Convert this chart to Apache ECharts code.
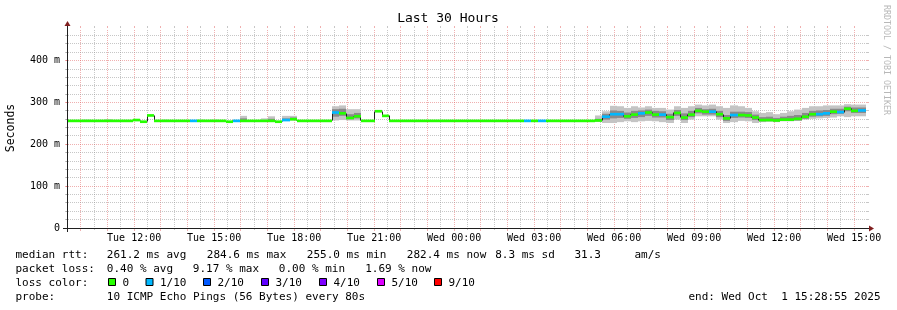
<!DOCTYPE html>
<html><head><meta charset="utf-8">
<script src="https://cdn.jsdelivr.net/npm/echarts@6/dist/echarts.min.js"></script>
<style>html,body{margin:0;padding:0;background:#fff}#c{width:897px;height:310px}</style>
</head><body><div id="c"></div>
<script>
// ================= DATA =================
// time axis in hours since Tue 00:00
const xStartHour = 9 + 28/60 + 55/3600;      // Tue 09:28:55
const xEndHour = xStartHour + 30;            // Wed 15:28:55
const firstStepHour = 9.2951;                // start of consolidation step 0
const stepHours = 16/60;                     // 960 s steps
const xTickHours = [12,15,18,21,24,27,30,33,36,39];
const xTickLabels = ['Tue 12:00','Tue 15:00','Tue 18:00','Tue 21:00','Wed 00:00','Wed 03:00','Wed 06:00','Wed 09:00','Wed 12:00','Wed 15:00'];
const xMajorGridHours = [10,11,12,13,14,15,16,17,18,19,20,21,22,23,24,25,26,27,28,29,30,31,32,33,34,35,36,37,38,39];
const xMinorGridHours = [9.5,10.5,11.5,12.5,13.5,14.5,15.5,16.5,17.5,18.5,19.5,20.5,21.5,22.5,23.5,24.5,25.5,26.5,27.5,28.5,29.5,30.5,31.5,32.5,33.5,34.5,35.5,36.5,37.5,38.5];
const yMax = 478;
const yTickValues = [0,100,200,300,400];
const yTickLabels = ['0','100 m','200 m','300 m','400 m'];
const yMinorGrid = [20,40,60,80,120,140,160,180,220,240,260,280,320,340,360,380,420,440,460];

// median rtt per step (ms)
const medianMs = [
 256,256,256,256,256,256,256,256,256,256,
 258,254,269,256,256,256,256,256,256,256,
 256,256,256,254,256,256,256,256,256,256,
 254,258,260,256,256,256,256,256,276,274,
 263,267,256,256,279,268,256,256,256,256,
 256,256,256,256,256,256,256,256,256,256,
 256,256,256,256,256,256,256,256,256,256,
 256,256,256,256,256,257,266,272,272,267,
 271,274,276,271,271,265,275,264,271,280,
 278,278,272,262,270,270,269,264,258,258,
 257,259,259,261,266,272,272,274,278,277,
 285,280,281,null
];
// lost pings (of 10) per step
const lossCount = [
 0,0,0,0,0,0,0,0,0,0,
 0,0,0,0,0,0,0,0,1,0,
 0,0,0,0,1,0,0,0,0,0,
 0,1,0,0,0,0,0,0,1,0,
 0,0,0,0,0,0,0,0,0,0,
 0,0,0,0,0,0,0,0,0,0,
 0,0,0,0,0,1,0,1,0,0,
 0,0,0,0,0,0,1,1,1,0,
 0,1,0,0,1,0,0,0,0,0,
 0,1,0,0,1,0,0,0,0,0,
 0,0,0,0,0,0,1,1,0,1,
 0,0,1,0
];
// smoke: [step, min, low, high, max] (ms)
const smoke = [
 [3,255,256,257,259],[6,255,256,257,260],[14,255,256,257,259],[19,255,256,257,259],[21,255,256,257,259],
 [25,255,256,262,268],[28,255,256,258,262],[29,255,256,261,267],[31,256,257,262,268],[32,257,258,264,268],
 [38,257,266,284,291],[39,258,268,285,293],[40,257,260,272,284],[41,257,262,275,284],
 [75,254,255,261,269],[76,251,259,273,279],[77,251,262,281,292],[78,253,263,280,291],[79,255,261,276,287],
 [80,253,263,280,291],[81,255,265,281,288],[82,256,268,283,291],[83,255,264,280,287],[84,253,264,279,287],
 [85,251,258,273,283],[86,259,268,282,291],[87,251,258,274,287],[88,259,265,280,291],[89,267,274,287,295],
 [90,267,271,284,293],[91,267,271,285,295],[92,259,265,280,291],[93,251,256,270,287],[94,253,263,278,293],
 [95,256,264,278,291],[96,255,263,277,287],[97,251,258,271,279],[98,253,255,265,275],[99,255,255,266,277],
 [100,253,255,263,272],[101,255,256,266,275],[102,255,256,268,279],[103,256,257,270,283],[104,259,261,275,287],
 [105,261,266,280,291],[106,262,267,281,291],[107,263,268,282,293],[108,264,272,285,293],[109,267,273,285,293],
 [110,265,279,290,296],[111,267,275,288,295],[112,267,275,288,295]
];
const lossLevels = [0,1,2,3,4,5,9];
const lossLabels = ['0','1/10','2/10','3/10','4/10','5/10','9/10'];
const lossColors = ['#26ff00','#00b8ff','#0059ff','#5e00ff','#7e00ff','#dd00ff','#ff0000'];

const titleText = 'Last 30 Hours';
const yAxisName = 'Seconds';
const rttHead = 'median rtt:';
const rttStats = ['261.2 ms avg','284.6 ms max','255.0 ms min','282.4 ms now','8.3 ms sd','31.3','am/s'];
const lossHead = 'packet loss:';
const lossStats = ['0.40 % avg','9.17 % max','0.00 % min','1.69 % now'];
const colorHead = 'loss color:';
const probeHead = 'probe:';
const probeText = '10 ICMP Echo Pings (56 Bytes) every 80s';
const endText = 'end: Wed Oct  1 15:28:55 2025';
const watermark = 'RRDTOOL / TOBI OETIKER';

// ================= STYLE / LAYOUT =================
const FONT = '"DejaVu Sans Mono"';
const bandHalf = 3.2;
const GRID_C = 'rgba(143,143,143,0.5)';
const MGRID_C = 'rgba(222,79,79,0.45)';
const AXIS_C = '#1f1f1f';
const ARROW_C = '#801f1f';

function stepRange(i){
  const t0 = firstStepHour + i*stepHours, t1 = t0 + stepHours;
  return [Math.max(t0, xStartHour), Math.min(t1, xEndHour)];
}
const crisp = v => Math.floor(v) + 0.5;

const vGridData = xMinorGridHours.map(h=>[h,0]).concat(xMajorGridHours.map(h=>[h,1]));
const hGridData = yMinorGrid.map(v=>[xStartHour,v,0]).concat(yTickValues.filter(v=>v>0).map(v=>[xStartHour,v,1]));

function vGridItem(params, api){
  const d = vGridData[params.dataIndex];
  const major = d[1] === 1;
  const c = major ? MGRID_C : GRID_C;
  const p0 = api.coord([d[0], 0]), p1 = api.coord([d[0], yMax]);
  const x = crisp(p0[0]), yb = Math.round(p0[1]), yt = Math.round(p1[1]);
  return {type:'group', children:[
    {type:'line', shape:{x1:x,y1:yb-1,x2:x,y2:yt+1}, style:{stroke:c,lineWidth:1,lineDash:[1,1]}},
    {type:'line', shape:{x1:x,y1:yt-2,x2:x,y2:yt}, style:{stroke:c,lineWidth:1}},
    {type:'line', shape:{x1:x,y1:yb,x2:x,y2:yb+(major?3:2)}, style:{stroke:c,lineWidth:1}}
  ]};
}
function hGridItem(params, api){
  const d = hGridData[params.dataIndex];
  const major = d[2] === 1;
  const c = major ? MGRID_C : GRID_C;
  const p0 = api.coord([xStartHour, d[1]]), p1 = api.coord([xEndHour, d[1]]);
  const y = crisp(p0[1]), xl = Math.round(p0[0]), xr = Math.round(p1[0]);
  return {type:'group', children:[
    {type:'line', shape:{x1:xl-1,y1:y,x2:xr+1,y2:y}, style:{stroke:c,lineWidth:1,lineDash:[1,1]}},
    {type:'line', shape:{x1:xl-2,y1:y,x2:xl,y2:y}, style:{stroke:c,lineWidth:1}},
    {type:'line', shape:{x1:xr,y1:y,x2:xr+2,y2:y}, style:{stroke:c,lineWidth:1}}
  ]};
}
function smokeItem(params, api){
  const d = smoke[params.dataIndex];
  const r = stepRange(d[0]);
  const mk = (lo, hi, col) => {
    const a = api.coord([r[0], hi]), b = api.coord([r[1], lo]);
    const x0 = Math.round(a[0]), x1 = Math.round(b[0]);
    return {type:'rect', shape:{x:x0, y:a[1], width:x1-x0, height:b[1]-a[1]}, style:{fill:col}};
  };
  return {type:'group', children:[ mk(d[1], d[4], '#c4c4c4'), mk(d[2], d[3], '#8a8a8a') ]};
}
function lineItem(params, api){
  const i = params.dataIndex, m = medianMs[i];
  if (m == null) return null;
  const r = stepRange(i);
  const a = api.coord([r[0], m]), b = api.coord([r[1], m]);
  const y = crisp(a[1]);
  const children = [{type:'line', shape:{x1:Math.round(a[0]),y1:y,x2:Math.round(b[0]),y2:y}, style:{stroke:'#202020',lineWidth:1}}];
  const n = medianMs[i+1];
  if (n != null && i+1 < medianMs.length) {
    const c = api.coord([r[1], n]);
    const x = crisp(b[0]);
    children.push({type:'line', shape:{x1:x,y1:y,x2:x,y2:crisp(c[1])}, style:{stroke:'#202020',lineWidth:1}});
  }
  return {type:'group', children};
}
function bandItem(params, api){
  const i = params.dataIndex, m = medianMs[i];
  if (m == null) return null;
  const r = stepRange(i);
  const a = api.coord([r[0], m + bandHalf]), b = api.coord([r[1], m - bandHalf]);
  const x0 = Math.round(a[0]), x1 = Math.round(b[0]);
  const col = lossColors[lossLevels.indexOf(lossCount[i])];
  return {type:'rect', shape:{x:x0, y:a[1], width:x1-x0, height:b[1]-a[1]}, style:{fill:col}};
}
function axesItem(params, api){
  const o = api.coord([xStartHour, 0]), e = api.coord([xEndHour, yMax]);
  const x0 = Math.round(o[0]), y0 = Math.round(o[1]), x1 = Math.round(e[0]), y1 = Math.round(e[1]);
  return {type:'group', children:[
    {type:'line', shape:{x1:x0-4,y1:y0+0.5,x2:x1+4,y2:y0+0.5}, style:{stroke:AXIS_C,lineWidth:1}},
    {type:'line', shape:{x1:x0+0.5,y1:y0+4,x2:x0+0.5,y2:y1-4}, style:{stroke:AXIS_C,lineWidth:1}},
    {type:'polygon', shape:{points:[[x1+2,y0-2.5],[x1+2,y0+3.5],[x1+7,y0+0.5]]}, style:{fill:ARROW_C}},
    {type:'polygon', shape:{points:[[x0-2.5,y1-2],[x0+3.5,y1-2],[x0+0.5,y1-7]]}, style:{fill:ARROW_C}}
  ]};
}

const stepData = medianMs.map((m,i)=>[firstStepHour + (i+0.5)*stepHours, m == null ? 0 : m]);

// graphic texts
const txt = (text, x, y, size, extra) => Object.assign({type:'text', x, y, silent:true,
  style:{text, font: size + 'px ' + FONT, fill:'#000', align:'left', verticalAlign:'middle', textAlign:'left', textVerticalAlign:'middle'}}, extra||{});
const L1 = 255, L2 = 268.8, L3 = 283, L4 = 297;
const rttX = [106.8, 206.8, 306.8, 406.8, 495.2, 574.5, 634.5];
const lossX = [106.8, 192.8, 278.8, 365.2];
const boxX = [108, 145.5, 203, 261, 319, 377, 434];
const elements = [];
elements.push({type:'text', x:448, y:19, silent:true, style:{text:titleText, font:'13px '+FONT, fill:'#000', align:'center', verticalAlign:'middle', textAlign:'center', textVerticalAlign:'middle'}});
elements.push({type:'text', x:886.5, y:5, rotation:-Math.PI/2, silent:true, style:{text:watermark, font:'8.3px '+FONT, fill:'#b8b8b8', align:'left', verticalAlign:'middle', textAlign:'left', textVerticalAlign:'middle'}});
elements.push(txt(rttHead, 15.5, L1, 11));
rttStats.forEach((s,k)=>elements.push(txt(s, rttX[k], L1, 11)));
elements.push(txt(lossHead, 15.5, L2, 11));
lossStats.forEach((s,k)=>elements.push(txt(s, lossX[k], L2, 11)));
elements.push(txt(colorHead, 15.5, L3, 11));
lossLabels.forEach((s,k)=>{
  elements.push({type:'rect', silent:true, shape:{x:boxX[k]+0.5, y:278.5, width:7, height:7}, style:{fill:lossColors[k], stroke:'#000', lineWidth:1}});
  elements.push(txt(s, boxX[k]+14.5, L3, 11));
});
elements.push(txt(probeHead, 15.5, L4, 11));
elements.push(txt(probeText, 106.8, L4, 11));
elements.push({type:'text', x:880.5, y:L4, silent:true, style:{text:endText, font:'11px '+FONT, fill:'#000', align:'right', verticalAlign:'middle', textAlign:'right', textVerticalAlign:'middle'}});

const chart = echarts.init(document.getElementById('c'), null, {renderer:'canvas'});
chart.setOption({
  animation:false,
  backgroundColor:'#ffffff',
  grid:{left:67, top:28, width:800, height:200, containLabel:false, outerBoundsMode:'none'},
  xAxis:{type:'value', min:xStartHour, max:xEndHour,
    axisLine:{show:false}, axisTick:{show:false}, splitLine:{show:false},
    axisLabel:{customValues:xTickHours, formatter:v=>{const k=xTickHours.indexOf(Math.round(v)); return k<0?'':xTickLabels[k];},
      fontFamily:FONT, fontSize:10, color:'#000', margin:5, hideOverlap:false}},
  yAxis:{type:'value', min:0, max:yMax,
    axisLine:{show:false}, axisTick:{show:false}, splitLine:{show:false},
    axisLabel:{customValues:yTickValues, formatter:v=>{const k=yTickValues.indexOf(Math.round(v)); return k<0?'':yTickLabels[k];},
      fontFamily:FONT, fontSize:10, color:'#000', margin:7},
    name:yAxisName, nameLocation:'middle', nameGap:50, nameRotate:90,
    nameTextStyle:{fontFamily:FONT, fontSize:11.5, color:'#000'}},
  graphic:{elements},
  series:[
    {type:'custom', name:'vgrid', z:1, silent:true, renderItem:vGridItem, data:vGridData.map(d=>[d[0],0])},
    {type:'custom', name:'hgrid', z:1, silent:true, renderItem:hGridItem, data:hGridData.map(d=>[d[0],d[1]])},
    {type:'custom', name:'smoke', z:2, silent:true, renderItem:smokeItem, data:smoke.map(d=>[firstStepHour+(d[0]+0.5)*stepHours, d[4]])},
    {type:'custom', name:'median', z:3, silent:true, renderItem:lineItem, data:stepData},
    {type:'custom', name:'loss', z:4, silent:true, renderItem:bandItem, data:stepData},
    {type:'custom', name:'axes', z:5, silent:true, renderItem:axesItem, data:[[xStartHour,0]]}
  ]
});
</script></body></html>
